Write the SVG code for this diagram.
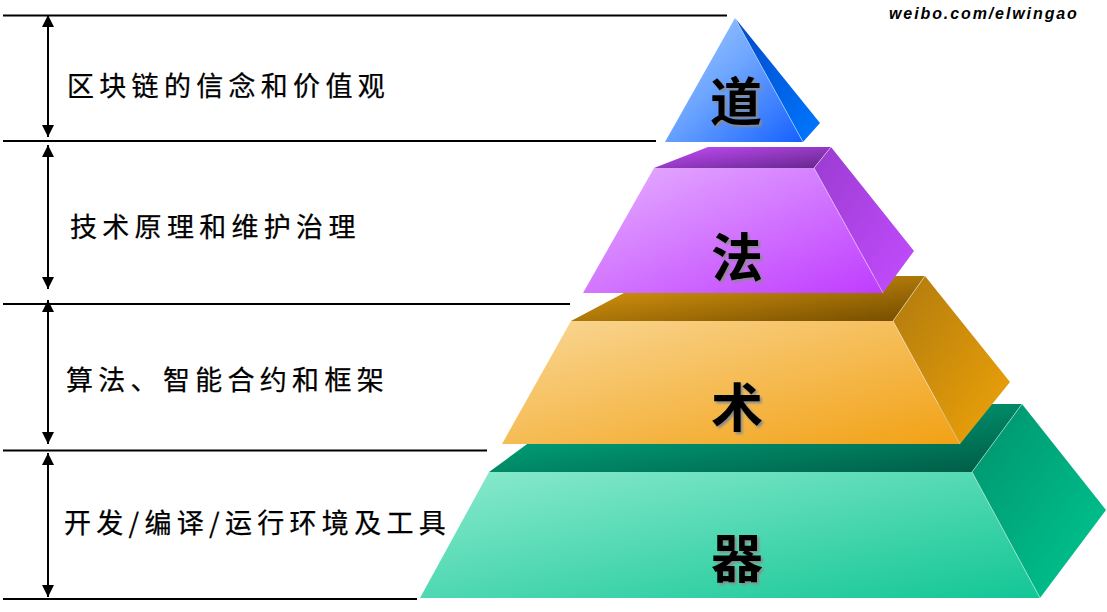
<svg xmlns="http://www.w3.org/2000/svg" width="1107" height="612" viewBox="0 0 1107 612">
<style>
.sep{stroke:#000;stroke-width:2;fill:none}
.arr{stroke:#000;stroke-width:2;fill:none;marker-start:url(#ah);marker-end:url(#ah)}
.lbl{font-family:"Noto Sans CJK SC","Noto Sans",sans-serif;font-size:27px;letter-spacing:5.3px;fill:#000;stroke:#000;stroke-width:0.25px}
.big{font-family:"Noto Sans CJK SC",sans-serif;font-size:52px;font-weight:bold;text-anchor:middle;dominant-baseline:central;fill:#000}
.shd{fill:#8a8a8a;filter:url(#blur)}
.edge{stroke:#ffffff;stroke-opacity:0.45;stroke-width:1;fill:none}
.wm{font-family:"Liberation Sans",Arial,sans-serif;font-size:16px;font-weight:bold;font-style:italic;letter-spacing:1.9px;fill:#000}
</style>
<defs>
<marker id="ah" markerUnits="userSpaceOnUse" markerWidth="12" markerHeight="12" refX="12" refY="6" orient="auto-start-reverse">
<path d="M0,0 L12,6 L0,12 z" fill="#000"/>
</marker>
<filter id="blur" x="-20%" y="-20%" width="140%" height="140%"><feGaussianBlur stdDeviation="0.8"/></filter>
<linearGradient id="bF" x1="0" y1="0" x2="1" y2="1"><stop offset="0" stop-color="#a6ccff"/><stop offset="0.45" stop-color="#6ea6ff"/><stop offset="1" stop-color="#1560ff"/></linearGradient>
<linearGradient id="bS" x1="0" y1="0" x2="1" y2="1"><stop offset="0" stop-color="#0048c8"/><stop offset="1" stop-color="#0078ff"/></linearGradient>
<linearGradient id="pT" x1="0" y1="0" x2="1" y2="1"><stop offset="0" stop-color="#c44cfa"/><stop offset="1" stop-color="#64268a"/></linearGradient>
<linearGradient id="pF" x1="0" y1="0" x2="1" y2="1"><stop offset="0" stop-color="#e6b0ff"/><stop offset="1" stop-color="#bf3cff"/></linearGradient>
<linearGradient id="pS" x1="0" y1="0" x2="1" y2="1"><stop offset="0" stop-color="#9a3cd0"/><stop offset="1" stop-color="#c44cff"/></linearGradient>
<linearGradient id="oT" x1="0" y1="0" x2="1" y2="1"><stop offset="0" stop-color="#e6a010"/><stop offset="1" stop-color="#734c00"/></linearGradient>
<linearGradient id="oF" x1="0" y1="0" x2="1" y2="1"><stop offset="0" stop-color="#f9d796"/><stop offset="1" stop-color="#f2a114"/></linearGradient>
<linearGradient id="oS" x1="0" y1="0" x2="1" y2="1"><stop offset="0" stop-color="#b07a0e"/><stop offset="1" stop-color="#f0a408"/></linearGradient>
<linearGradient id="gT" x1="0" y1="0" x2="1" y2="1"><stop offset="0" stop-color="#00b88a"/><stop offset="1" stop-color="#005a44"/></linearGradient>
<linearGradient id="gF" x1="0" y1="0" x2="1" y2="1"><stop offset="0" stop-color="#8ceace"/><stop offset="1" stop-color="#12c695"/></linearGradient>
<linearGradient id="gS" x1="0" y1="0" x2="1" y2="1"><stop offset="0" stop-color="#00926c"/><stop offset="1" stop-color="#00c892"/></linearGradient>
</defs>
<rect width="1107" height="612" fill="#fff"/>

<g id="separators">
<line class="sep" x1="3" y1="15.5" x2="727" y2="15.5"/>
<line class="sep" x1="3" y1="141" x2="656" y2="141"/>
<line class="sep" x1="3" y1="304" x2="570" y2="304"/>
<line class="sep" x1="3" y1="450.5" x2="487" y2="450.5"/>
<line class="sep" x1="3" y1="599" x2="417" y2="599"/>
</g>

<g id="connectors">
<line class="arr" x1="48" y1="15" x2="48" y2="137"/>
<line class="arr" x1="48" y1="145" x2="48" y2="289"/>
<line class="arr" x1="48" y1="300" x2="48" y2="444"/>
<line class="arr" x1="48" y1="453" x2="48" y2="597"/>
</g>

<g id="label-dao"><text class="lbl" x="67" y="96">区块链的信念和价值观</text></g>
<g id="label-fa"><text class="lbl" x="70" y="237">技术原理和维护治理</text></g>
<g id="label-shu"><text class="lbl" x="66" y="390">算法、智能合约和框架</text></g>
<g id="label-qi"><text class="lbl" x="64" y="533">开发/编译/运行环境及工具</text></g>

<g id="level-qi">
<polygon points="582,404 1022,404 972,472 489,472" fill="url(#gT)"/>
<polygon points="489,472 972,472 1040,598 420,598" fill="url(#gF)"/>
<polygon points="1022,404 1106,510 1040,598 972,472" fill="url(#gS)"/>
<polyline class="edge" points="1022,404 972,472 1040,598"/>
<text class="big shd" x="739" y="557">器</text>
<text class="big" x="737" y="555">器</text>
</g>

<g id="level-shu">
<polygon points="656,276 925,276 893,321 571,321" fill="url(#oT)"/>
<polygon points="571,321 893,321 960,444 502,444" fill="url(#oF)"/>
<polygon points="925,276 1010,382 960,444 893,321" fill="url(#oS)"/>
<polyline class="edge" points="925,276 893,321 960,444"/>
<text class="big shd" x="739" y="406">术</text>
<text class="big" x="737" y="404">术</text>
</g>

<g id="level-fa">
<polygon points="708,147 831,147 814,168 654,168" fill="url(#pT)"/>
<polygon points="654,168 814,168 883,293 583,293" fill="url(#pF)"/>
<polygon points="831,147 914,251 883,293 814,168" fill="url(#pS)"/>
<polyline class="edge" points="831,147 814,168 883,293"/>
<text class="big shd" x="739" y="256">法</text>
<text class="big" x="737" y="254">法</text>
</g>

<g id="level-dao">
<polygon points="735,18 803,142 665,142" fill="url(#bF)"/>
<polygon points="735,18 820,123 803,142" fill="url(#bS)"/>
<line class="edge" x1="735" y1="18" x2="803" y2="142"/>
<text class="big shd" x="738" y="100.5">道</text>
<text class="big" x="736" y="98.5">道</text>
</g>

<g id="watermark"><text class="wm" x="889" y="19">weibo.com/elwingao</text></g>
</svg>
